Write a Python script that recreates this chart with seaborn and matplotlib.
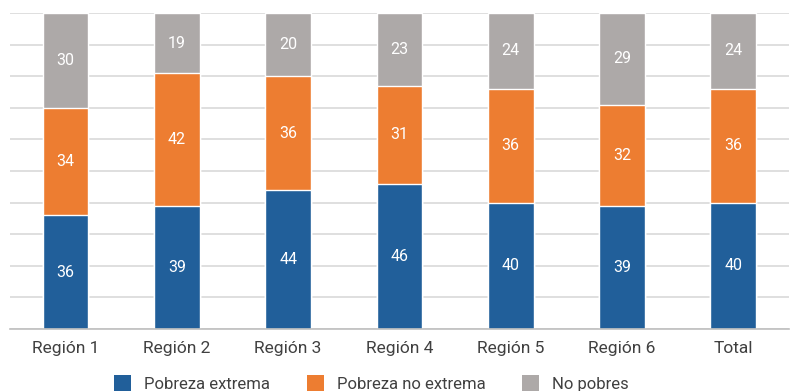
import numpy as np
import pandas as pd
import matplotlib
matplotlib.use("Agg")
import matplotlib.pyplot as plt
import seaborn as sns
from matplotlib.patches import Patch

regions = ["Región 1", "Región 2", "Región 3", "Región 4", "Región 5", "Región 6", "Total"]
pobreza_extrema = [36, 39, 44, 46, 40, 39, 40]
pobreza_no_extrema = [34, 42, 36, 31, 36, 32, 36]
no_pobres = [30, 19, 20, 23, 24, 29, 24]

series_names = ["Pobreza extrema", "Pobreza no extrema", "No pobres"]
colors = ["#215F9A", "#ED7D31", "#ADA9A8"]

sns.set_theme(style="white")
plt.rcParams["font.family"] = ["Roboto", "DejaVu Sans"]

df = pd.DataFrame({
    "region": regions,
    "ext": pobreza_extrema,
    "noext": pobreza_no_extrema,
    "nopob": no_pobres,
})
df["top2"] = df["ext"] + df["noext"]
df["top3"] = df["top2"] + df["nopob"]

fig = plt.figure(figsize=(7.91, 3.91), dpi=100)
ax = fig.add_axes([0.0126, 0.1586, 0.9848, 0.8082])

# stacked bars drawn as overlapping cumulative bars
for col, c in zip(["top3", "top2", "ext"], colors[::-1]):
    sns.barplot(data=df, x="region", y=col, color=c, width=0.41,
                saturation=1, ax=ax, zorder=3)

# value labels centered in each segment
for i in range(len(df)):
    bottoms = [0, df["ext"][i], df["top2"][i]]
    vals = [df["ext"][i], df["noext"][i], df["nopob"][i]]
    for b, v in zip(bottoms, vals):
        ax.text(i, b + v / 2, f"{v}", ha="center", va="center",
                color="white", fontsize=11.5, zorder=4)

ax.set_ylim(0, 100)
ax.set_xlim(-0.5, len(df) - 0.5)
ax.set_yticks(np.arange(0, 101, 10))
ax.set_yticklabels([])
ax.yaxis.grid(True, color="#D9D9D9", linewidth=1.2, zorder=0)
ax.set_xlabel("")
ax.set_ylabel("")
ax.tick_params(axis="x", length=0, labelsize=12.5, labelcolor="#404040", pad=9)
ax.tick_params(axis="y", length=0)
for s in ["top", "right", "left"]:
    ax.spines[s].set_visible(False)
ax.spines["bottom"].set_color("#BFBFBF")
ax.spines["bottom"].set_linewidth(1.2)
ax.spines["bottom"].set_zorder(5)

handles = [Patch(facecolor=c, edgecolor="none") for c in colors]
fig.legend(handles, series_names, loc="center", bbox_to_anchor=(0.47, 0.02),
           ncol=3, frameon=False, fontsize=12, handlelength=1.0, handleheight=1.15,
           columnspacing=2.2, handletextpad=0.8, labelcolor="#404040",
           borderpad=0.0)

fig.savefig("out.png", dpi=100)
